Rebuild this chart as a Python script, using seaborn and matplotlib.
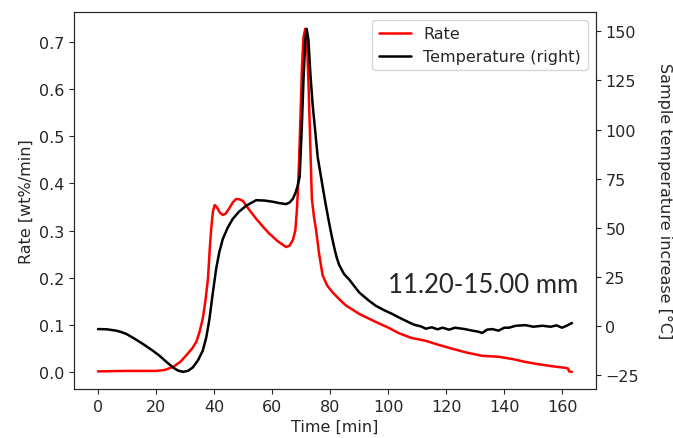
import matplotlib
matplotlib.use("Agg")
import matplotlib.pyplot as plt
import seaborn as sns

# rate curve (left axis)
time_rate = [0, 10, 20, 23, 26, 28.5, 30.4, 32.5, 33.9, 35, 36.1, 37, 37.9, 38.5, 39.0,
             39.6, 40.2, 40.9, 42, 43.0, 44.0, 45, 46.5, 47.6, 48.8, 49.9, 52, 54.5, 57,
             59.1, 62, 64.8, 66, 67.1, 68.0, 68.5, 68.8, 69.3, 69.8, 70.3, 70.8, 71.4,
             72.0, 72.6, 73.2, 73.7, 74.4, 75.1, 76.2, 77.4, 79, 80.8, 83, 85.4, 88, 90,
             95.7, 100, 103.7, 108, 112.9, 117, 122.1, 127, 132.4, 138.1, 143, 147.3,
             152, 156.4, 161.0, 162.0, 162.3, 163.3]
rate = [0.001, 0.002, 0.002, 0.004, 0.011, 0.022, 0.035, 0.05, 0.064, 0.085, 0.113, 0.15,
        0.198, 0.26, 0.303, 0.34, 0.354, 0.35, 0.338, 0.333, 0.336, 0.345, 0.36, 0.367,
        0.366, 0.363, 0.345, 0.325, 0.307, 0.293, 0.277, 0.265, 0.268, 0.279, 0.3, 0.34,
        0.374, 0.45, 0.55, 0.65, 0.71, 0.728, 0.70, 0.60, 0.47, 0.367, 0.33, 0.303, 0.25,
        0.205, 0.183, 0.169, 0.155, 0.141, 0.131, 0.123, 0.106, 0.094, 0.082, 0.072,
        0.066, 0.058, 0.049, 0.041, 0.034, 0.032, 0.027, 0.021, 0.016, 0.012, 0.0085,
        0.007, 0.001, 0.0]

# sample temperature increase (right axis)
time_temp = [0, 3, 6.3, 8, 9.8, 12.5, 15.5, 18.5, 21.2, 23.5, 25.8, 27.5, 29.3, 31, 32.7,
             34.5, 36.1, 37.3, 38.4, 39.5, 40.7, 41.8, 43.0, 44.7, 46.4, 48.5, 51.0, 54.5,
             57.5, 60.2, 62.5, 64.8, 66.0, 67.1, 68.0, 68.8, 69.5, 70.2, 70.8, 71.4, 71.9,
             72.5, 73.2, 74.0, 74.8, 75.7, 76.6, 77.4, 78.2, 79.0, 79.7, 80.5, 81.3, 82.2,
             83.1, 84.8, 86.6, 88.3, 90, 93, 95.7, 98.5, 101.4, 104, 107.2, 109, 111.2, 113,
             115, 117, 118.7, 121, 123, 126.4, 129, 131, 132.4, 134, 135.9, 138, 140, 141.6,
             144, 147.3, 150, 153.1, 156, 158, 159.9, 161.5, 163.3]
temp = [-1.7, -1.8, -2.5, -3.2, -4.2, -6.5, -9.3, -12.3, -15.3, -18.3, -21.2, -22.8, -23.5,
        -23.0, -21.2, -17.5, -12.7, -6, 3.4, 16, 28.9, 37.5, 44.2, 50.0, 54.4, 58.0, 61.1,
        64.0, 63.8, 63.2, 62.5, 62.0, 62.8, 64.6, 67.5, 71.3, 76, 100, 125, 145, 151.3,
        146, 128, 112, 100, 86, 78, 71, 64, 57.5, 52, 46, 40.5, 35, 31, 26.3, 23.5, 20.2,
        17.0, 13.2, 10.2, 8, 6.0, 4.0, 1.7, 0.5, -0.3, -1.5, -0.8, -1.8, -1.0, -2.0, -1.0,
        -1.7, -2.5, -3.0, -3.7, -2.0, -1.7, -2.5, -1.0, -1.0, 0, 0.3, -0.5, 0, -0.5, 0.2,
        -1.0, 0, 1.4]

sns.set_style("ticks")
plt.rcParams['font.family'] = ['DejaVu Sans']
fs = 11.5

fig, ax = plt.subplots(figsize=(6.73, 4.39), dpi=100)
fig.subplots_adjust(left=0.1104, right=0.885, top=0.971, bottom=0.1116)

sns.lineplot(x=time_rate, y=rate, ax=ax, color='red', linewidth=1.8, label='Rate')
ax2 = ax.twinx()
sns.lineplot(x=time_temp, y=temp, ax=ax2, color='black', linewidth=1.8,
             label='Temperature (right)')

ax.set_xlabel('Time [min]', fontsize=fs)
ax.set_ylabel('Rate [wt%/min]', fontsize=fs)
ax2.set_ylabel('Sample temperature increase [°C]', fontsize=fs, rotation=270, labelpad=24)
ax.set_xticks(range(0, 161, 20))
ax.set_yticks([0.0, 0.1, 0.2, 0.3, 0.4, 0.5, 0.6, 0.7])
ax2.set_yticks([-25, 0, 25, 50, 75, 100, 125, 150])
ax.tick_params(labelsize=fs)
ax2.tick_params(labelsize=fs)

h1, l1 = ax.get_legend_handles_labels()
h2, l2 = ax2.get_legend_handles_labels()
ax.get_legend().remove()
ax2.legend(h1 + h2, l1 + l2, loc='upper right', fontsize=fs)

ax.text(100, 0.17, '11.20-15.00 mm', fontsize=18.5, family=['Lato', 'DejaVu Sans'])

fig.savefig('out.png', dpi=100)
